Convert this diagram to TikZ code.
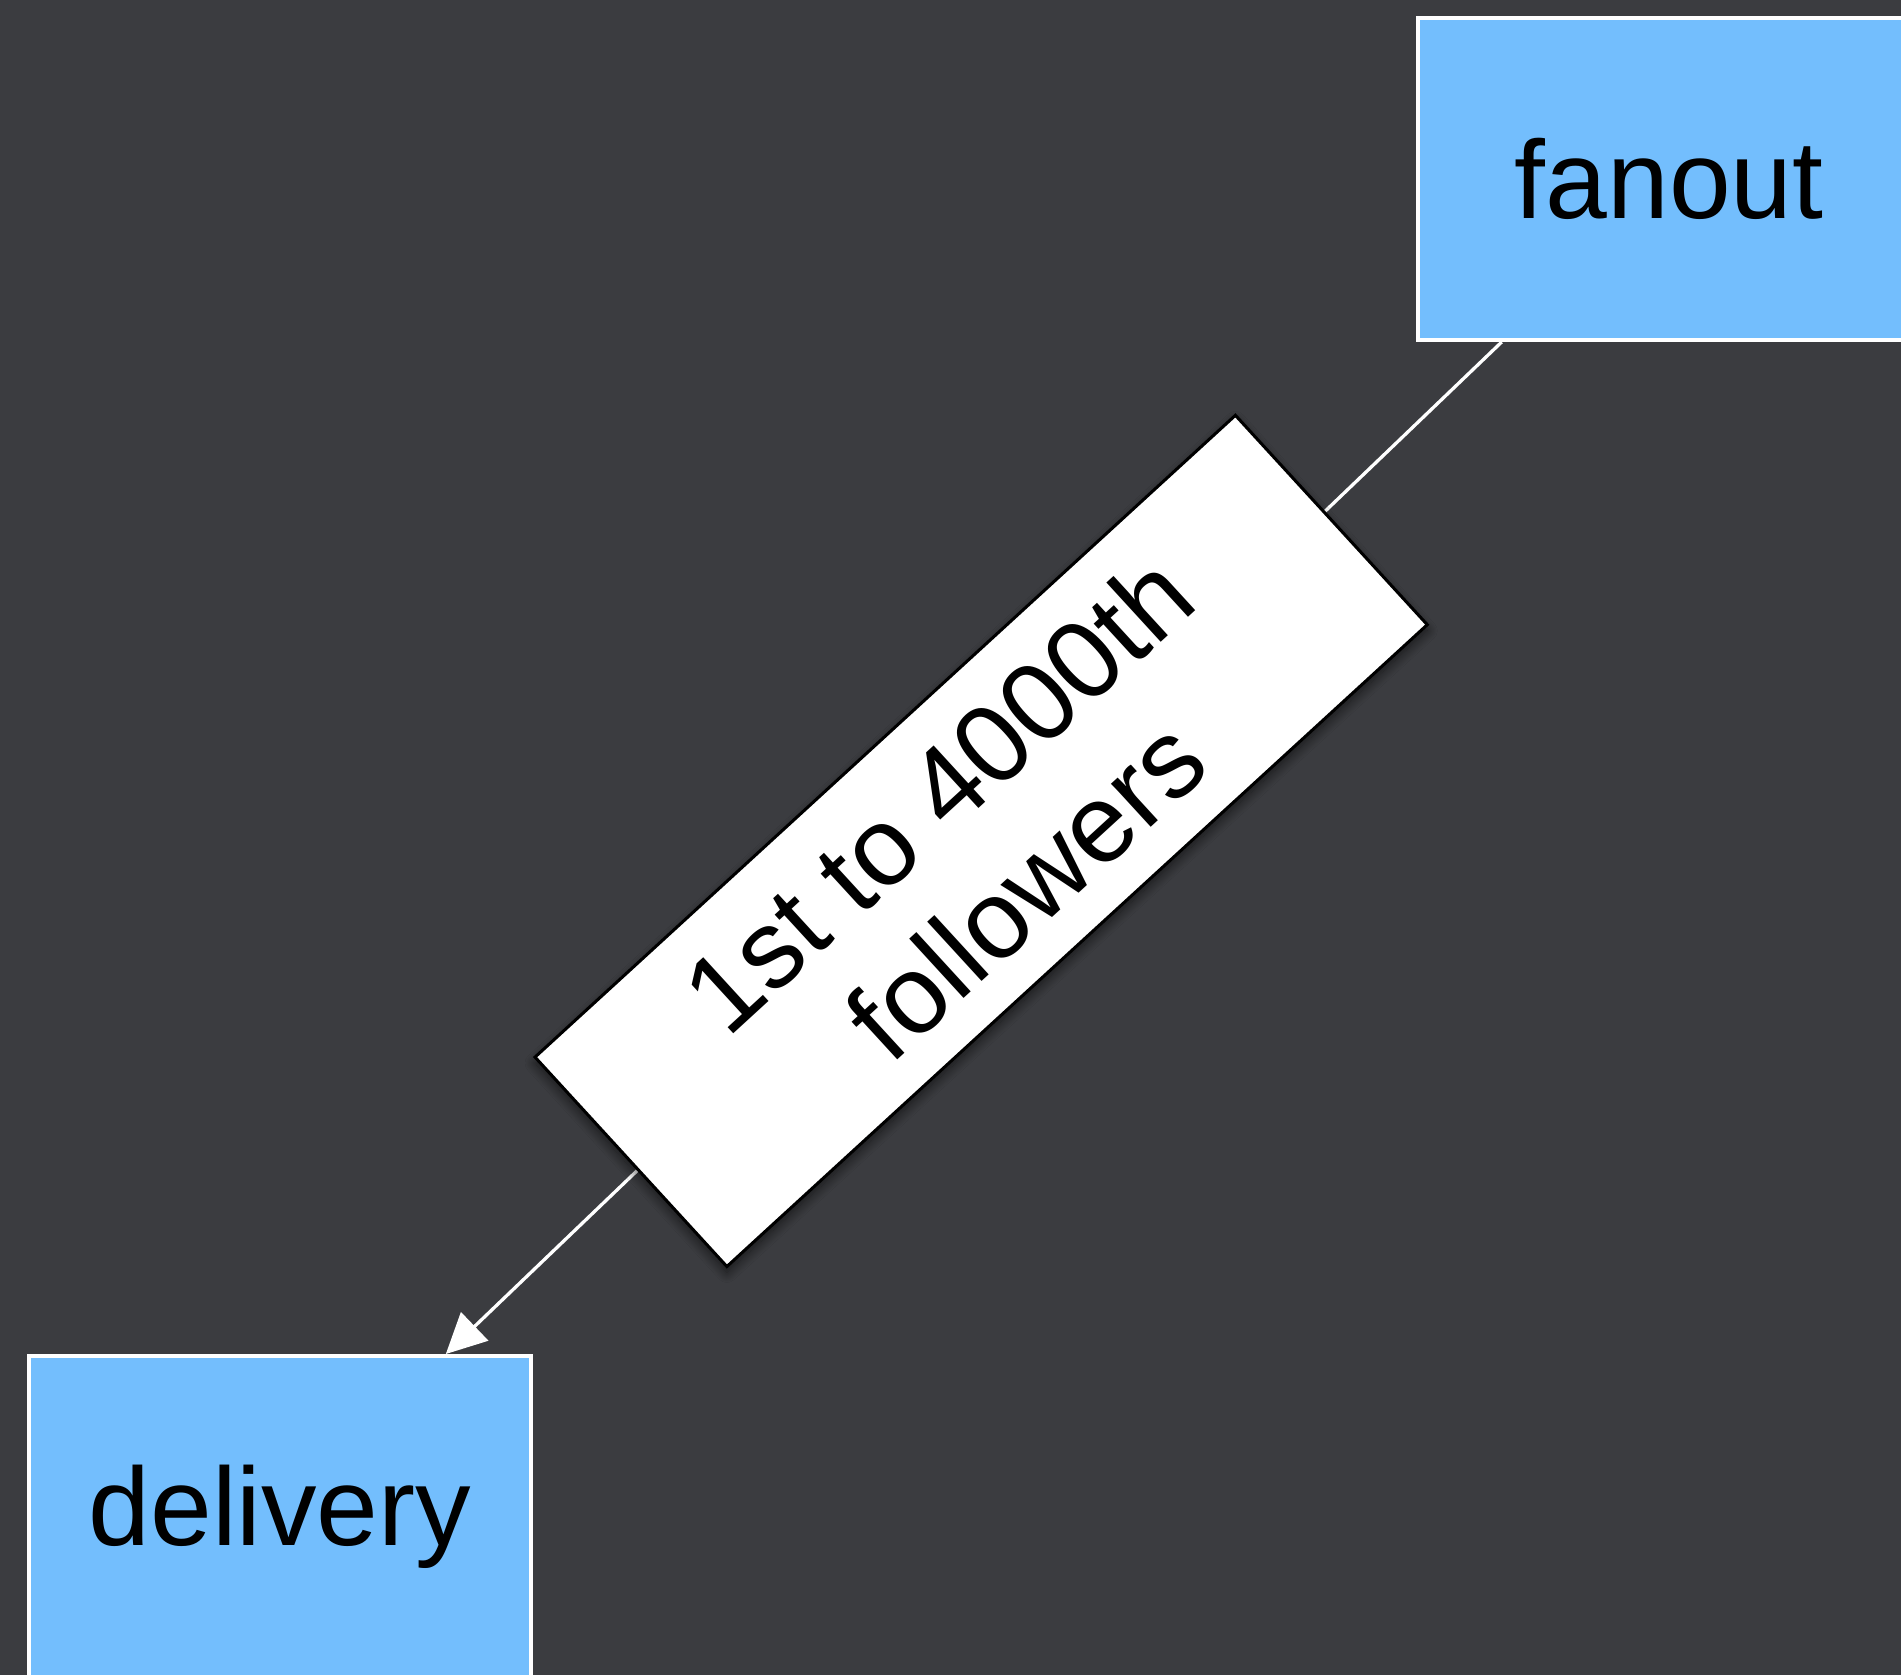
\documentclass[tikz,border=0pt]{standalone}
\usepackage{xcolor}
\usepackage{fontspec}
\setmainfont{Liberation Sans}
\usepackage{tikz}
\usetikzlibrary{arrows.meta, positioning, shadows.blur}

\definecolor{bgdark}{RGB}{59,60,64}
\definecolor{svcblue}{RGB}{115,190,253}

\begin{document}
\begin{tikzpicture}[
    x=1pt, y=-1pt,
    every node/.style={font=\fontsize{111}{130}\selectfont},
    svc/.style={rectangle, draw=white, line width=4pt, fill=svcblue, text=black, minimum width=502pt, minimum height=322pt, inner sep=0pt},
    note/.style={rectangle, draw=black, line width=3pt, fill=white, text=black, minimum width=950pt, minimum height=284pt, inner sep=0pt, align=center, rotate=42.5,
        blur shadow={shadow xshift=0pt, shadow yshift=-6pt, shadow blur radius=10pt, shadow blur steps=12, shadow opacity=60}},
    arr/.style={-{Triangle[length=40pt, width=39pt]}, line width=3.3pt, white}
]
\useasboundingbox (0,0) rectangle (1901,1675);
\clip (0,0) rectangle (1901,1675);
\fill[bgdark] (0,0) rectangle (1901,1675);

\node[svc] (fanout)   at (1669,179)  {fanout};
\node[svc] (delivery) at (280,1517)  {delivery};

\draw[arr] (fanout) -- node[note, pos=0.493] (range) {1st to 4000th\\followers} (delivery);
\end{tikzpicture}
\end{document}
